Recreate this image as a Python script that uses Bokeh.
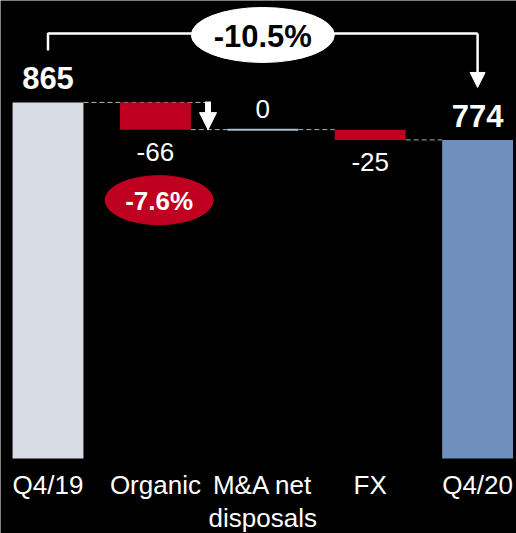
from bokeh.plotting import figure
from bokeh.models import Range1d, Arrow, NormalHead, ColumnDataSource
from bokeh.core.properties import value
from bokeh.embed import file_html
from bokeh.resources import INLINE

# ---- data ----
categories = ["Q4/19", "Organic", "M&A net\ndisposals", "FX", "Q4/20"]
values = [865, -66, 0, -25, 774]
value_labels = ["865", "-66", "0", "-25", "774"]
total_change_label = "-10.5%"
organic_change_label = "-7.6%"

# ---- layout constants ----
W, H = 516, 533
PX = 0.4116          # pixels per unit
SPACING = 107.4      # pixels per category
x0_px, y0_px = 47.5, 75.0
BAR_W = 0.66

FONT = value("Liberation Sans")
GRAY = "#D6DBE4"
RED = "#C00020"
BLUE = "#6F8FBC"
DASH = "#B0B0B0"

def dy(px):
    return px / PX

# baseline correction (px) for rendered text
SH26, SH31 = 9.5, 10.5

p = figure(width=W, height=H, output_backend="svg", toolbar_location=None,
           x_axis_type=None, y_axis_type=None, min_border=0,
           x_range=Range1d(-x0_px / SPACING, (W - x0_px) / SPACING),
           y_range=Range1d(-y0_px / PX, (H - y0_px) / PX))
p.background_fill_color = "black"
p.border_fill_color = "black"
p.outline_line_color = None
p.grid.visible = False

xs = list(range(len(categories)))
bottoms, tops, colors = [], [], []
running = 0
for i, v in enumerate(values):
    if i == 0 or i == len(values) - 1:
        bottoms.append(0); tops.append(v); running = v
        colors.append(GRAY if i == 0 else BLUE)
    else:
        new = running + v
        bottoms.append(min(running, new)); tops.append(max(running, new))
        colors.append(RED)
        running = new

# dashed connectors
h = BAR_W / 2
conn = [
    (xs[0] + h, xs[1] + 0.47, tops[0]),
    (xs[1] + h, xs[2] - h, bottoms[1]),
    (xs[2] + h, xs[3] - h, bottoms[1]),
    (xs[3] + h, xs[4] - h, bottoms[3]),
]
p.segment(x0=[c[0] for c in conn], x1=[c[1] for c in conn],
          y0=[c[2] for c in conn], y1=[c[2] for c in conn],
          line_color=DASH, line_width=1, line_dash="5 3")

bar_idx = [i for i in xs if values[i] != 0]
p.vbar(x=[xs[i] for i in bar_idx], top=[tops[i] for i in bar_idx],
       bottom=[bottoms[i] for i in bar_idx], width=BAR_W,
       fill_color=[colors[i] for i in bar_idx], line_color=None)
zi = [i for i in xs if values[i] == 0]
p.segment(x0=[xs[i] - h for i in zi], x1=[xs[i] + h for i in zi],
          y0=[tops[i] for i in zi], y1=[tops[i] for i in zi],
          line_color="#A9BCD0", line_width=2)

# value labels
label_y = [tops[0] + dy(14 + SH31), bottoms[1] - dy(32 - SH26), tops[2] + dy(11 + SH26),
           bottoms[3] - dy(31.5 - SH26), tops[4] + dy(13 + SH31)]
p.text(x="x", y="y", text="text", source=ColumnDataSource(dict(
    x=[xs[0], xs[4]], y=[label_y[0], label_y[4]], text=[value_labels[0], value_labels[4]])),
    text_font=FONT, text_font_size="31px", text_font_style="bold", text_color="white",
    text_align="center", text_baseline="alphabetic")
p.text(x="x", y="y", text="text", source=ColumnDataSource(dict(
    x=xs[1:4], y=label_y[1:4], text=value_labels[1:4])),
    text_font=FONT, text_font_size="26px", text_color="white",
    text_align="center", text_baseline="alphabetic")

# category labels (one glyph entry per line)
cx, cy, ct = [], [], []
for i, c in enumerate(categories):
    for k, line in enumerate(c.split("\n")):
        cx.append(xs[i]); cy.append(-dy(36 - SH26 + 33 * k)); ct.append(line)
p.text(x=cx, y=cy, text=ct,
       text_font=FONT, text_font_size="26px", text_color="white",
       text_align="center", text_baseline="alphabetic")

# total change bracket
yb = tops[0] + dy(69)
xmid = (xs[0] + xs[4]) / 2
p.line(x=[xs[0], xs[0], xs[4]], y=[tops[0] + dy(52), yb, yb], line_color="white", line_width=2.5)
p.add_layout(Arrow(end=NormalHead(size=15, fill_color="white", line_color="white"),
                   x_start=xs[4], y_start=yb, x_end=xs[4], y_end=tops[0] + dy(15),
                   line_color="white", line_width=2.5))
p.ellipse(x=[xmid], y=[yb - dy(1.5)], width=[143], height=[55],
          width_units="screen", height_units="screen",
          fill_color="white", line_color="white")
p.text(x=[xmid], y=[yb - dy(14 - SH31)], text=[total_change_label],
       text_font=FONT, text_font_size="31px", text_font_style="bold", text_color="black",
       text_align="center", text_baseline="alphabetic")

# organic arrow
xa = xs[1] + 0.49
p.add_layout(Arrow(end=NormalHead(size=17, fill_color="white", line_color="white"),
                   x_start=xa, y_start=tops[1] + dy(1), x_end=xa, y_end=bottoms[1],
                   line_color="white", line_width=6))

# organic percent ellipse
ye = bottoms[1] - dy(70.5)
p.ellipse(x=[xs[1] + 0.035], y=[ye], width=[108], height=[49],
          width_units="screen", height_units="screen",
          fill_color=RED, line_color=RED)
p.text(x=[xs[1] + 0.035], y=[ye - dy(10.5 - SH26)], text=[organic_change_label],
       text_font=FONT, text_font_size="26px", text_font_style="bold", text_color="white",
       text_align="center", text_baseline="alphabetic")

open("out.html", "w").write(file_html(p, INLINE))
